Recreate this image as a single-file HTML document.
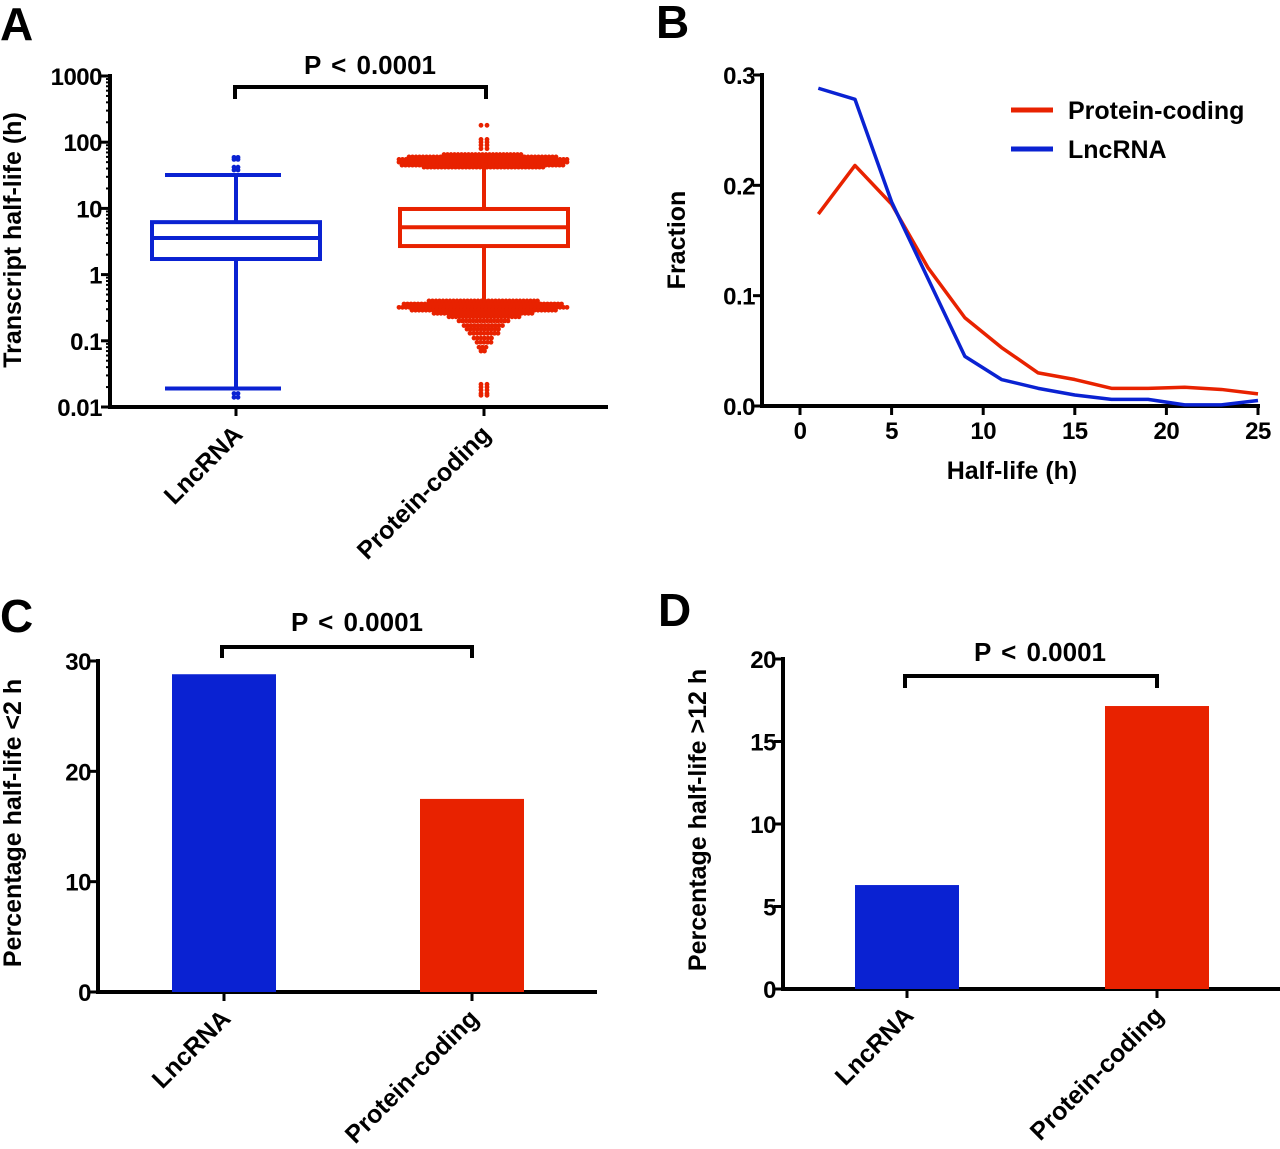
<!DOCTYPE html>
<html><head><meta charset="utf-8"><style>
html,body{margin:0;padding:0;background:#fff}
svg{display:block}
text{font-family:"Liberation Sans",Arial,sans-serif;font-weight:bold;fill:#000}
</style></head><body>
<svg id="fig" width="1280" height="1149" viewBox="0 0 1280 1149" xmlns="http://www.w3.org/2000/svg">
<g id="gA"></g>
<g id="gB"></g>
<g id="gC"></g>
<g id="gD"></g>
</svg>
<script>
// ---------- Panel A data ----------
const aCategories = ["LncRNA", "Protein-coding"];
const aQ1 = [1.72, 2.7];
const aMedian = [3.57, 5.2];
const aQ3 = [6.2, 9.8];
const aWhiskerLow = [0.019, 0.41];
const aWhiskerHigh = [32, 49];
const aTickValues = [0.01, 0.1, 1, 10, 100, 1000];
const aTickLabels = ["0.01", "0.1", "1", "10", "100", "1000"];
const aBlueOutliers = [59, 55, 42, 38, 0.016, 0.014];
const aRedBandValues = [65, 60, 55, 50, 45, 42, 0.4, 0.36, 0.32, 0.29, 0.26, 0.23, 0.2, 0.17, 0.15, 0.13, 0.11, 0.095, 0.08, 0.07];
const aRedBandSpread = [40, 75, 85, 85, 82, 60, 55, 80, 85, 72, 50, 35, 25, 20, 17, 14, 10, 7, 5, 3];
const aRedExtras = [180, 110, 100, 90, 80, 0.022, 0.02, 0.018, 0.016, 0.015];
// ---------- Panel B data ----------
const bX = [1, 3, 5, 7, 9, 11, 13, 15, 17, 19, 21, 23, 25];
const bProtein = [0.174, 0.218, 0.183, 0.125, 0.080, 0.053, 0.030, 0.024, 0.016, 0.016, 0.017, 0.015, 0.011];
const bLnc = [0.288, 0.278, 0.185, 0.115, 0.045, 0.024, 0.016, 0.010, 0.006, 0.006, 0.001, 0.001, 0.005];
const bXTicks = [0, 5, 10, 15, 20, 25];
const bYTicks = [0, 0.1, 0.2, 0.3];
const bYLabels = ["0.0", "0.1", "0.2", "0.3"];
// ---------- Panel C/D data ----------
const cCategories = ["LncRNA", "Protein-coding"];
const cValues = [28.8, 17.5];
const cTicks = [0, 10, 20, 30];
const dCategories = ["LncRNA", "Protein-coding"];
const dValues = [6.3, 17.15];
const dTicks = [0, 5, 10, 15, 20];

const NS = "http://www.w3.org/2000/svg";
const BLUE = "#0a22d2", RED = "#e82200";
const TICKFS = 24, TITLEFS = 25, CATFS = 25;
function mk(parent, tag, attrs, txt) {
  const e = document.createElementNS(NS, tag);
  for (const k in attrs) e.setAttribute(k, attrs[k]);
  if (txt !== undefined) e.textContent = txt;
  parent.appendChild(e);
  return e;
}
function line(p, x1, y1, x2, y2, stroke, w, name) {
  const e = mk(p, "line", {x1, y1, x2, y2, stroke, "stroke-width": w});
  
  
  return e;
}
function txt(p, x, y, s, size, anchor, name, extra) {
  const e = mk(p, "text", Object.assign({x, y, "font-size": size, "text-anchor": anchor}, extra || {}), s);
  
  
  return e;
}
function catLabel(p, x, y, s, name) {
  const e = mk(p, "text", {x: 0, y: 0, "font-size": CATFS, "text-anchor": "end", transform: `translate(${x},${y}) rotate(-45)`}, s);
  
  
}
function bracket(p, x1, x2, y, drop, tx, ty) {
  const e = mk(p, "path", {d: `M${x1},${y + drop}V${y}H${x2}V${y + drop}`, fill: "none", stroke: "#000", "stroke-width": 4});
  
  
  txt(p, tx, ty, "P < 0.0001", 26, "middle", "p-value-label", {"word-spacing": "3"});
}

// ---------- Panel A ----------
(function () {
  const g = document.getElementById("gA");
  const ax = 110, y0 = 407, y1 = 76, xEnd = 608;
  const ly = v => y0 - (Math.log10(v) + 2) / 5 * (y0 - y1);
  const cx = [236, 484];
  txt(g, 0, 40, "A", 46, "start", "panel-letter-a");
  line(g, ax, y1 - 2, ax, y0 + 2, "#000", 4, "y-axis-line");
  line(g, ax - 2, y0, xEnd, y0, "#000", 4, "x-axis-line");
  for (let d = -2; d < 3; d++) for (let m = 2; m < 10; m++) {
    const yy = ly(m * Math.pow(10, d));
    line(g, ax - 4, yy, ax, yy, "#000", 2, "y-minor-tick");
  }
  aTickValues.forEach((v, i) => {
    const yy = ly(v);
    line(g, ax - 9, yy, ax, yy, "#000", 3, "y-tick");
    txt(g, ax - 8, yy + 9, aTickLabels[i], TICKFS, "end", "y-tick-label", {"letter-spacing": "-0.5"});
  });
  const t = mk(g, "text", {x: 0, y: 0, "font-size": TITLEFS, "text-anchor": "middle", transform: "translate(21,240) rotate(-90)"}, "Transcript half-life (h)");
  
  
  aCategories.forEach((c, i) => {
    line(g, cx[i], y0, cx[i], y0 + 9, "#000", 3, "x-tick");
    catLabel(g, cx[i] + 8, 436, c, "x-category-label");
  });
  bracket(g, 235, 486, 87, 12, 370, 74);
  function dot(x, y, col) {
    const e = mk(g, "circle", {cx: x, cy: y, r: 2.4, fill: col});
    
    
  }
  aBlueOutliers.forEach(v => { dot(cx[0] - 2, ly(v), BLUE); dot(cx[0] + 2, ly(v), BLUE); });
  aRedBandValues.forEach((v, i) => {
    const s = aRedBandSpread[i];
    for (let dx = -s; dx <= s; dx += 3.5) dot(cx[1] + dx, ly(v), RED);
  });
  aRedExtras.forEach(v => { dot(cx[1] - 3, ly(v), RED); dot(cx[1] + 3, ly(v), RED); });
  const cols = [BLUE, RED], hw = 84, capw = 71;
  aCategories.forEach((c, i) => {
    const col = cols[i];
    line(g, cx[i], ly(aWhiskerHigh[i]), cx[i], ly(aQ3[i]), col, 4, "whisker-upper");
    line(g, cx[i], ly(aQ1[i]), cx[i], ly(aWhiskerLow[i]), col, 4, "whisker-lower");
    if (i === 0) {
      line(g, cx[i] - capw, ly(aWhiskerHigh[i]), cx[i] + 45, ly(aWhiskerHigh[i]), col, 4, "whisker-cap-upper");
      line(g, cx[i] - capw, ly(aWhiskerLow[i]), cx[i] + 45, ly(aWhiskerLow[i]), col, 4, "whisker-cap-lower");
    }
    const r = mk(g, "rect", {x: cx[i] - hw, y: ly(aQ3[i]), width: 2 * hw, height: ly(aQ1[i]) - ly(aQ3[i]), fill: "#fff", stroke: col, "stroke-width": 4});
    
    
    line(g, cx[i] - hw, ly(aMedian[i]), cx[i] + hw, ly(aMedian[i]), col, 4, "median-line");
  });
})();

// ---------- Panel B ----------
(function () {
  const g = document.getElementById("gB");
  const ax = 762, y0 = 406, yTop = 75;
  const sx = v => 800 + v * (1258 - 800) / 25;
  const sy = v => y0 - v / 0.3 * (y0 - yTop);
  txt(g, 656, 38, "B", 46, "start", "panel-letter-b");
  line(g, ax, yTop - 2, ax, y0 + 2, "#000", 4, "y-axis-line");
  line(g, ax - 2, y0, 1260, y0, "#000", 4, "x-axis-line");
  bYTicks.forEach((v, i) => {
    line(g, ax - 9, sy(v), ax, sy(v), "#000", 3, "y-tick");
    txt(g, ax - 7, sy(v) + 9, bYLabels[i], TICKFS, "end", "y-tick-label", {"letter-spacing": "-0.5"});
  });
  bXTicks.forEach(v => {
    line(g, sx(v), y0, sx(v), y0 + 9, "#000", 3, "x-tick");
    txt(g, sx(v), y0 + 33, String(v), TICKFS, "middle", "x-tick-label", {"letter-spacing": "-0.5"});
  });
  txt(g, 1012, 479, "Half-life (h)", TITLEFS, "middle", "x-axis-title");
  const t = mk(g, "text", {x: 0, y: 0, "font-size": TITLEFS, "text-anchor": "middle", transform: "translate(685,240) rotate(-90)"}, "Fraction");
  
  
  function series(vals, col, name) {
    const pts = bX.map((x, i) => sx(x) + "," + sy(vals[i])).join(" ");
    const e = mk(g, "polyline", {points: pts, fill: "none", stroke: col, "stroke-width": 3.5, "stroke-linejoin": "round"});
    
    
  }
  series(bProtein, RED, "line-protein-coding");
  series(bLnc, BLUE, "line-lncrna");
  line(g, 1011, 110, 1053, 110, RED, 5, "legend-swatch-protein-coding");
  txt(g, 1068, 119, "Protein-coding", TITLEFS, "start", "legend-label-protein-coding");
  line(g, 1011, 149, 1053, 149, BLUE, 5, "legend-swatch-lncrna");
  txt(g, 1068, 158, "LncRNA", TITLEFS, "start", "legend-label-lncrna");
})();

// ---------- Panels C & D ----------
function barPanel(gid, letter, lx, ly2, ax, y0, yTop, maxV, ticks, values, cats, cx, xEnd, title, titleX, titleY, br) {
  const g = document.getElementById(gid);
  const sy = v => y0 - v / maxV * (y0 - yTop);
  txt(g, lx, ly2, letter, 46, "start", "panel-letter-" + letter.toLowerCase());
  line(g, ax, yTop - 2, ax, y0 + 2, "#000", 4, "y-axis-line");
  line(g, ax - 2, y0, xEnd, y0, "#000", 4, "x-axis-line");
  ticks.forEach(v => {
    line(g, ax - 9, sy(v), ax, sy(v), "#000", 3, "y-tick");
    txt(g, ax - 7, sy(v) + 9, String(v), TICKFS, "end", "y-tick-label", {"letter-spacing": "-0.5"});
  });
  const cols = [BLUE, RED];
  values.forEach((v, i) => {
    const r = mk(g, "rect", {x: cx[i] - 52, y: sy(v), width: 104, height: y0 - sy(v), fill: cols[i]});
    
    
    line(g, cx[i], y0, cx[i], y0 + 9, "#000", 3, "x-tick");
    catLabel(g, cx[i] + 8, y0 + 28, cats[i], "x-category-label");
  });
  const t = mk(g, "text", {x: 0, y: 0, "font-size": TITLEFS, "text-anchor": "middle", transform: `translate(${titleX},${titleY}) rotate(-90)`}, title);
  
  
  bracket(g, br[0], br[1], br[2], br[3], br[4], br[5]);
}
barPanel("gC", "C", 0, 632, 98, 992, 661, 30, cTicks, cValues, cCategories, [224, 472], 597,
  "Percentage half-life  <2 h", 21, 823, [222, 472, 647, 11, 357, 631]);
barPanel("gD", "D", 658, 626, 783, 989, 659, 20, dTicks, dValues, dCategories, [907, 1157], 1280,
  "Percentage half-life  >12 h", 706, 820, [905, 1157, 676, 12, 1040, 661]);
</script>
</body></html>
